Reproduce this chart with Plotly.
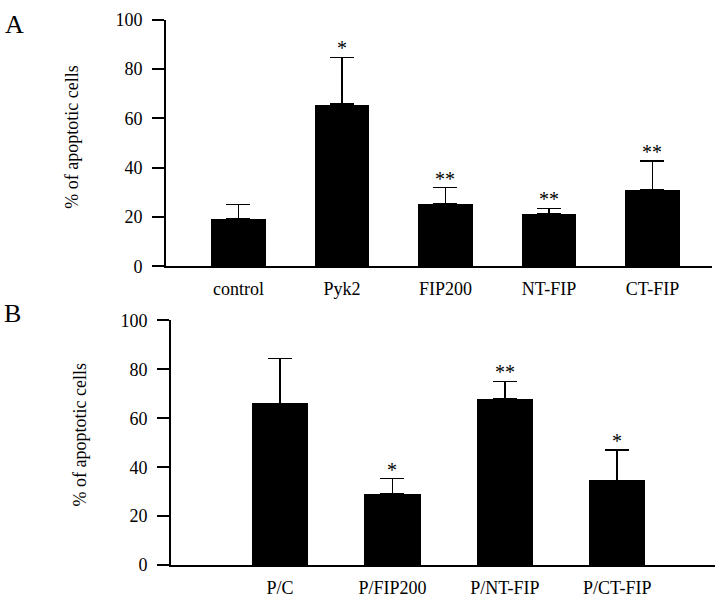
import plotly.graph_objects as go

# Panel A data
cats_a = ["control", "Pyk2", "FIP200", "NT-FIP", "CT-FIP"]
mean_a = [19.2, 65.7, 25.4, 21.2, 31.2]
err_a = [5.8, 19.0, 6.5, 2.3, 11.6]
sig_a = ["", "*", "**", "**", "**"]

# Panel B data
cats_b = ["P/C", "P/FIP200", "P/NT-FIP", "P/CT-FIP"]
mean_b = [66.0, 29.0, 67.8, 34.5]
err_b = [18.5, 6.3, 7.3, 12.5]
sig_b = ["", "*", "**", "*"]

y_ticks = [0, 20, 40, 60, 80, 100]
y_title = "% of apoptotic cells"

FONT = "Liberation Serif"
W, H = 720, 606

fig = go.Figure()
annotations = []

def add_panel(cats, mean, err, sig, xa, ya, width):
    fig.add_trace(go.Bar(
        x=cats, y=mean, xaxis=xa, yaxis=ya, width=width,
        marker=dict(color="black", line=dict(width=0)),
        error_y=dict(type="data", array=err, arrayminus=[0] * len(err),
                     symmetric=False, color="black", thickness=1.6, width=12),
        showlegend=False, hoverinfo="skip",
    ))
    for c, m, e, s in zip(cats, mean, err, sig):
        if s:
            annotations.append(dict(
                text=s, x=c, y=m + e, xref=xa, yref=ya, showarrow=False,
                xanchor="center", yanchor="bottom", yshift=-4,
                font=dict(family=FONT, size=20, color="black")))

add_panel(cats_a, mean_a, err_a, sig_a, "x", "y", 0.53)
add_panel(cats_b, mean_b, err_b, sig_b, "x2", "y2", 0.5)

xcommon = dict(showline=True, linecolor="black", linewidth=2, showgrid=False,
               zeroline=False, ticks="outside", ticklen=5,
               tickcolor="rgba(0,0,0,0)", tickfont=dict(family=FONT, size=18, color="black"))
ycommon = dict(showline=True, linecolor="black", linewidth=2, showgrid=False,
               zeroline=False, ticks="outside", ticklen=12, tickwidth=2,
               tickcolor="black", range=[0, 100], tickvals=y_ticks,
               ticklabelstandoff=6,
               tickfont=dict(family=FONT, size=18, color="black"))

annotations += [
    dict(text="A", x=14 / W, y=(H - 15) / H, xref="paper", yref="paper",
         xanchor="center", yanchor="middle",
         showarrow=False, font=dict(family=FONT, size=26, color="black")),
    dict(text="B", x=13 / W, y=(H - 314) / H, xref="paper", yref="paper",
         xanchor="center", yanchor="middle",
         showarrow=False, font=dict(family=FONT, size=26, color="black")),
    dict(text=y_title, x=72 / W, y=(H - 132) / H, xref="paper", yref="paper",
         xanchor="center", yanchor="middle",
         textangle=-90, showarrow=False, font=dict(family=FONT, size=18, color="black")),
    dict(text=y_title, x=80 / W, y=(H - 440) / H, xref="paper", yref="paper",
         xanchor="center", yanchor="middle",
         textangle=-90, showarrow=False, font=dict(family=FONT, size=18, color="black")),
]

fig.update_layout(
    width=W, height=H,
    margin=dict(l=0, r=0, t=0, b=0),
    paper_bgcolor="white", plot_bgcolor="white",
    bargap=0,
    xaxis=dict(domain=[166 / W, 712 / W], anchor="y", range=[-0.70, 4.575], **xcommon),
    yaxis=dict(domain=[(H - 265) / H, (H - 10) / H], anchor="x", **ycommon),
    xaxis2=dict(domain=[171 / W, 715 / W], anchor="y2", range=[-0.97, 3.87], **xcommon),
    yaxis2=dict(domain=[(H - 574) / H, (H - 321) / H], anchor="x2", **ycommon),
    annotations=annotations,
)

fig.write_html(
    "out.html",
    config={"displayModeBar": False},
    post_script=("document.documentElement.style.margin='0';"
                 "document.documentElement.style.overflow='hidden';"
                 "document.body.style.margin='0';"
                 "document.body.style.overflow='hidden';"),
)
